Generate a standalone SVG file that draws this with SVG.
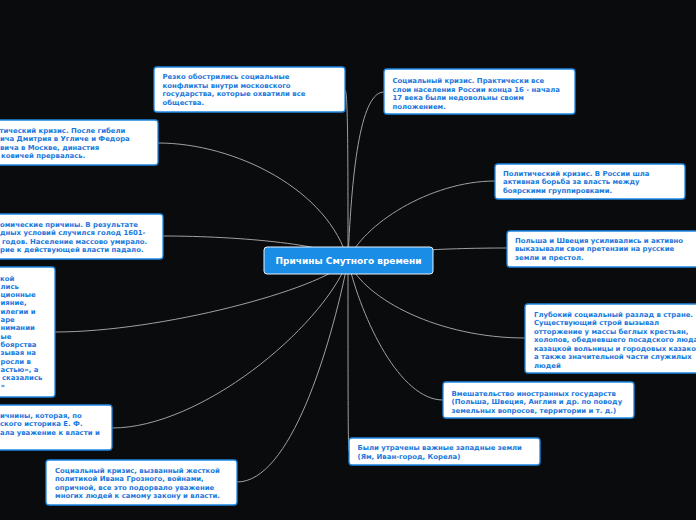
<svg xmlns="http://www.w3.org/2000/svg" width="696" height="520" viewBox="0 0 696 520">
<style>
.bg{fill:#0a0b0c}
.box{fill:#ffffff;stroke:#1e88e5;stroke-width:1.3}
.t{font-family:"DejaVu Sans",Verdana,sans-serif;font-weight:bold;font-size:6.9px;fill:#1a78dc}
.c{fill:#1a8ee6;stroke:#e8f2fc;stroke-width:1}
.ct{font-family:"DejaVu Sans",Verdana,sans-serif;font-weight:bold;font-size:9px;fill:#ffffff}
.ln{fill:none;stroke:#a0a0a0;stroke-width:1}
</style>
<rect class="bg" x="0" y="0" width="696" height="520"/>
<g id="connectors">
<path class="ln" d="M348,261 C348,160 348,90 345,90"/>
<path class="ln" d="M348,261 C352,160 362,92 384,92"/>
<path class="ln" d="M348,261 C329,190 235,143 158,143"/>
<path class="ln" d="M348,261 C338,245 240,236 163,236"/>
<path class="ln" d="M348,261 C362,225 430,181 495,181"/>
<path class="ln" d="M348,261 C365,252 440,248 507,248"/>
<path class="ln" d="M348,261 C320,290 160,332 55,332"/>
<path class="ln" d="M348,261 C365,300 440,338 525,338"/>
<path class="ln" d="M348,261 C320,330 200,428 112,428"/>
<path class="ln" d="M348,261 C362,320 400,400 443,400"/>
<path class="ln" d="M348,261 C348,380 348,451 349,451"/>
<path class="ln" d="M348,261 C330,350 290,482 237,482"/>
</g>
<g id="n1"><rect class="box" x="154" y="67" width="191" height="45" rx="3"/>
<text class="t"><tspan x="162.5" y="79">Резко обострились социальные</tspan><tspan x="162.5" y="87.5">конфликты внутри московского</tspan><tspan x="162.5" y="96">государства, которые охватили все</tspan><tspan x="162.5" y="104.5">общества.</tspan></text></g>
<g id="n2"><rect class="box" x="384" y="69" width="191" height="45" rx="3"/>
<text class="t"><tspan x="392.5" y="83">Социальный кризис. Практически все</tspan><tspan x="392.5" y="91.5">слои населения России конца 16 - начала</tspan><tspan x="392.5" y="100">17 века были недовольны своим</tspan><tspan x="392.5" y="108.5">положением.</tspan></text></g>
<g id="n3"><rect class="box" x="-33" y="120" width="191" height="45" rx="3"/>
<text class="t"><tspan x="-0.5" y="132.5">тический кризис. После гибели</tspan><tspan x="0" y="141">ича Дмитрия в Угличе и Федора</tspan><tspan x="0" y="149.5">вича в Москве, династия</tspan><tspan x="1" y="158">ковичей прервалась.</tspan></text></g>
<g id="n4"><rect class="box" x="-28" y="214" width="191" height="45" rx="3"/>
<text class="t"><tspan x="0" y="226.5">омические причины. В результате</tspan><tspan x="0" y="235">дных условий случился голод 1601-</tspan><tspan x="2" y="243.5">годов. Население массово умирало.</tspan><tspan x="0" y="252">рие к действующей власти падало.</tspan></text></g>
<g id="n5"><rect class="box" x="495" y="164" width="190" height="35" rx="3"/>
<text class="t"><tspan x="503" y="175.5">Политический кризис. В России шла</tspan><tspan x="503" y="184">активная борьба за власть между</tspan><tspan x="503" y="192.5">боярскими группировками.</tspan></text></g>
<g id="n6"><rect class="box" x="507" y="231" width="191" height="36" rx="3"/>
<text class="t"><tspan x="515" y="242.5">Польша и Швеция усиливались и активно</tspan><tspan x="515" y="251">выказывали свои претензии на русские</tspan><tspan x="515" y="259.5">земли и престол.</tspan></text></g>
<g id="n7"><rect class="box" x="-136" y="267" width="191" height="130" rx="3"/>
<text class="t"><tspan x="0" y="280.5">кой</tspan><tspan x="0.5" y="288.8">лись</tspan><tspan x="0.5" y="297.1">ционные</tspan><tspan x="0.5" y="305.4">ияние,</tspan><tspan x="0.5" y="313.7">илегии и</tspan><tspan x="0.5" y="322">аре</tspan><tspan x="0.5" y="330.3">нимании</tspan><tspan x="0.5" y="338.6">ые</tspan><tspan x="0.5" y="346.9">боярства</tspan><tspan x="0.5" y="355.2">зывая на</tspan><tspan x="0.5" y="363.5">росли в</tspan><tspan x="0.5" y="371.8">астью», а</tspan><tspan x="2" y="380.1">сказались</tspan><tspan x="0.5" y="388.4">»</tspan></text></g>
<g id="n8"><rect class="box" x="525" y="304" width="191" height="69" rx="3"/>
<text class="t"><tspan x="534" y="316.5">Глубокий социальный разлад в стране.</tspan><tspan x="534" y="325">Существующий строй вызывал</tspan><tspan x="534" y="333.5">отторжение у массы беглых крестьян,</tspan><tspan x="534" y="342">холопов, обедневшего посадского люда,</tspan><tspan x="534" y="350.5">казацкой вольницы и городовых казаков,</tspan><tspan x="534" y="359">а также значительной части служилых</tspan><tspan x="534" y="367.5">людей</tspan></text></g>
<g id="n9"><rect class="box" x="-79" y="405" width="191" height="45" rx="3"/>
<text class="t"><tspan x="0" y="417.5">ичнины, которая, по</tspan><tspan x="0" y="426">ского историка Е. Ф.</tspan><tspan x="0" y="434.5">ала уважение к власти и</tspan></text></g>
<g id="n10"><rect class="box" x="443" y="382" width="191" height="36" rx="3"/>
<text class="t"><tspan x="451.5" y="395.5">Вмешательство иностранных государств</tspan><tspan x="451.5" y="404">(Польша, Швеция, Англия и др. по поводу</tspan><tspan x="451.5" y="412.5">земельных вопросов, территории и т. д.)</tspan></text></g>
<g id="n11"><rect class="box" x="349" y="438" width="191" height="27" rx="3"/>
<text class="t"><tspan x="357.5" y="450">Были утрачены важные западные земли</tspan><tspan x="357.5" y="458.5">(Ям, Иван-город, Корела)</tspan></text></g>
<g id="n12"><rect class="box" x="46" y="460" width="191" height="45" rx="3"/>
<text class="t"><tspan x="55" y="472.5">Социальный кризис, вызванный жесткой</tspan><tspan x="55" y="481">политикой Ивана Грозного, войнами,</tspan><tspan x="55" y="489.5">опричной, все это подорвало уважение</tspan><tspan x="55" y="498">многих людей к самому закону и власти.</tspan></text></g>
<g id="center"><rect class="c" x="264" y="247" width="169" height="27" rx="3"/>
<text class="ct" x="348.5" y="264" text-anchor="middle">Причины Смутного времени</text></g>
</svg>
